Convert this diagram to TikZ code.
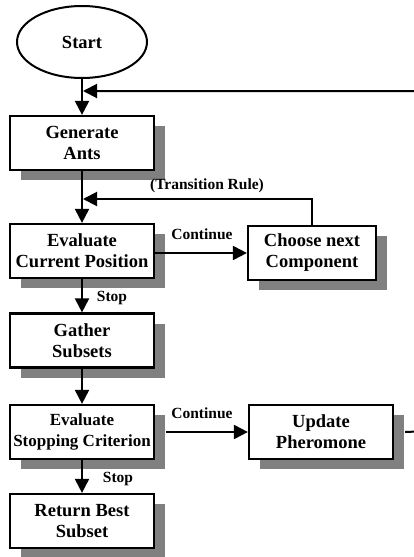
\documentclass[tikz,border=0pt]{standalone}
\usepackage{fontspec}
\setmainfont{Liberation Serif}
\usetikzlibrary{shapes.geometric,shadows,arrows.meta}
\begin{document}
\begin{tikzpicture}[x=1pt,y=-1pt,
  boxtext/.style={font=\bfseries\fontsize{18.5}{21}\selectfont, align=center},
  procbox/.style={boxtext, draw, line width=2.2pt, fill=white, minimum width=144pt, minimum height=54pt, inner sep=0pt,
    drop shadow={shadow xshift=11pt, shadow yshift=-10pt, fill=black!50, opacity=1}},
  startnode/.style={boxtext, ellipse, draw, line width=2pt, minimum width=130pt, minimum height=72pt, inner sep=0pt},
  lbl/.style={font=\bfseries\fontsize{15.5}{18}\selectfont, inner sep=0pt},
  conn/.style={line width=2pt, -{Triangle[length=14pt,width=14pt]}}]
\useasboundingbox (0,0) rectangle (413,557);
\node[startnode] (start) at (82,42) {Start};
\node[procbox] (gen) at (82,143) {Generate\\Ants};
\node[procbox] (ecp) at (82,251) {Evaluate\\Current Position};
\node[procbox, minimum width=128pt] (choose) at (312,253) {Choose next\\Component};
\node[procbox] (gath) at (82,340.5) {Gather\\Subsets};
\node[procbox, font=\bfseries\fontsize{17}{21}\selectfont] (esc) at (82,432) {Evaluate\\Stopping Criterion};
\node[procbox] (upd) at (321,432) {Update\\Pheromone};
\node[procbox] (ret) at (82,521) {Return Best\\Subset};
\coordinate (j1) at (83,91);
\coordinate (j2) at (83,199);
\coordinate (far) at (430,431);
\node[lbl] (ltr) at (207,186) {(Transition Rule)};
\node[lbl] (lc1) at (202,234) {Continue};
\node[lbl] (ls1) at (112,298) {Stop};
\node[lbl] (lc2) at (202,413) {Continue};
\node[lbl] (ls2) at (118,479) {Stop};
\draw[conn] (start.south) -- (gen.north);
\draw[conn] ([xshift=11pt]upd.east) -- (far) |- (j1);
\draw[conn] (gen.south) -- (ecp.north);
\draw[conn] (choose.north) |- (j2);
\draw[conn] (ecp.east |- choose.west) -- (choose.west);
\draw[conn] (ecp.south) -- (gath.north);
\draw[conn] (gath.south) -- (esc.north);
\draw[conn] ([xshift=11pt]esc.east) -- (upd.west);
\draw[conn] (esc.south) -- (ret.north);
\end{tikzpicture}
\end{document}
